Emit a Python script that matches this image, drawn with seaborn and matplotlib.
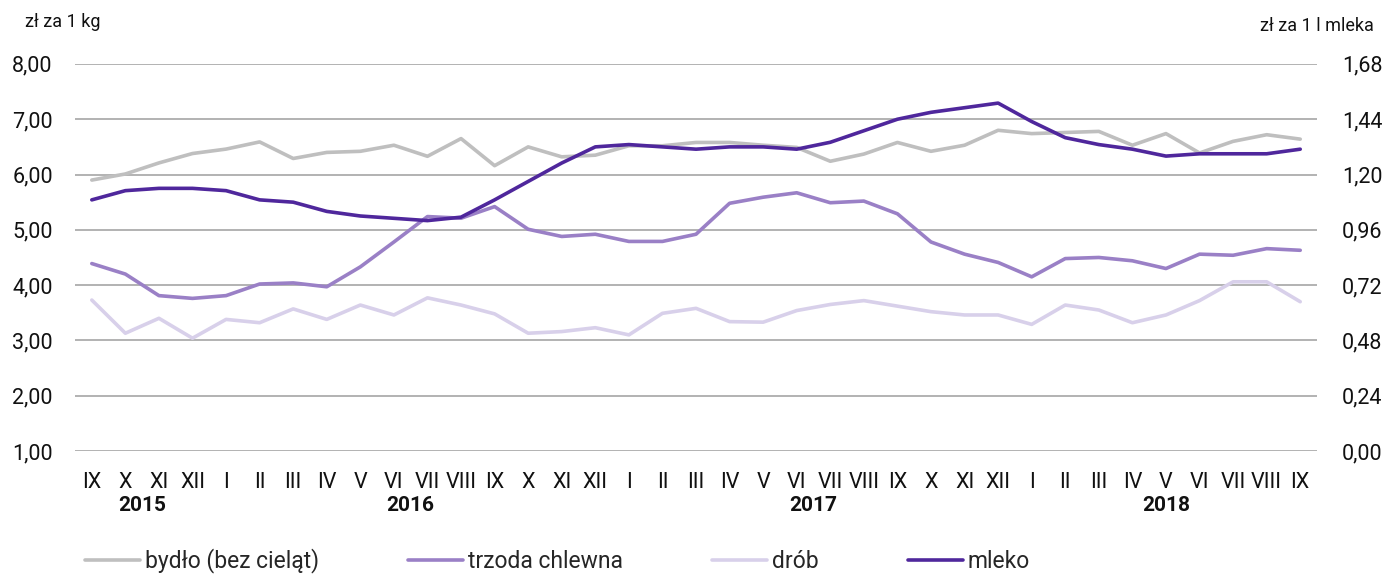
import matplotlib
matplotlib.use("Agg")
import matplotlib.pyplot as plt
from matplotlib.ticker import FuncFormatter, FixedLocator
import seaborn as sns
import pandas as pd

# miesiące IX 2015 - IX 2018
months = ["IX", "X", "XI", "XII",
          "I", "II", "III", "IV", "V", "VI", "VII", "VIII", "IX", "X", "XI", "XII",
          "I", "II", "III", "IV", "V", "VI", "VII", "VIII", "IX", "X", "XI", "XII",
          "I", "II", "III", "IV", "V", "VI", "VII", "VIII", "IX"]
years = ["2015", "2016", "2017", "2018"]
year_counts = [4, 12, 12, 9]

bydlo = [5.90, 6.01, 6.21, 6.38, 6.46, 6.59, 6.29, 6.40, 6.42, 6.53, 6.33, 6.65,
         6.16, 6.50, 6.32, 6.35, 6.52, 6.52, 6.58, 6.58, 6.53, 6.49, 6.24, 6.37,
         6.58, 6.42, 6.53, 6.80, 6.74, 6.76, 6.78, 6.53, 6.74, 6.39, 6.60, 6.72, 6.64]
trzoda = [4.39, 4.20, 3.81, 3.76, 3.81, 4.02, 4.04, 3.97, 4.33, 4.78, 5.24, 5.21,
          5.42, 5.01, 4.88, 4.92, 4.79, 4.79, 4.92, 5.48, 5.59, 5.67, 5.49, 5.52,
          5.29, 4.78, 4.56, 4.41, 4.15, 4.48, 4.50, 4.44, 4.30, 4.56, 4.54, 4.66, 4.63]
drob = [3.73, 3.13, 3.40, 3.04, 3.38, 3.32, 3.57, 3.38, 3.64, 3.46, 3.77, 3.64,
        3.48, 3.13, 3.16, 3.23, 3.10, 3.49, 3.58, 3.34, 3.33, 3.54, 3.65, 3.72,
        3.62, 3.52, 3.46, 3.46, 3.29, 3.64, 3.55, 3.32, 3.46, 3.72, 4.06, 4.06, 3.70]
mleko = [1.09, 1.13, 1.14, 1.14, 1.13, 1.09, 1.08, 1.04, 1.02, 1.01, 1.00, 1.015,
         1.09, 1.17, 1.25, 1.32, 1.33, 1.32, 1.31, 1.32, 1.32, 1.31, 1.34, 1.39,
         1.44, 1.47, 1.49, 1.51, 1.43, 1.36, 1.33, 1.31, 1.28, 1.29, 1.29, 1.29, 1.31]

left_ticks = [1, 2, 3, 4, 5, 6, 7, 8]
right_ticks = [0.00, 0.24, 0.48, 0.72, 0.96, 1.20, 1.44, 1.68]

df = pd.DataFrame({"x": range(len(months)), "bydlo": bydlo, "trzoda": trzoda,
                   "drob": drob, "mleko": mleko})

sns.set_style("white")
plt.rcParams["font.family"] = ["Roboto", "DejaVu Sans"]

fig = plt.figure(figsize=(13.84, 5.76), dpi=100)
ax = fig.add_axes([0.0542, 0.217, 0.8974, 0.672])
ax2 = ax.twinx()

c_bydlo, c_trzoda, c_drob, c_mleko = "#bfbfbf", "#9a80c6", "#d8d0ea", "#4f279c"
lw = 2.6
sns.lineplot(data=df, x="x", y="bydlo", ax=ax, color=c_bydlo, lw=lw, label="bydło (bez cieląt)", legend=False)
sns.lineplot(data=df, x="x", y="trzoda", ax=ax, color=c_trzoda, lw=lw, label="trzoda chlewna", legend=False)
sns.lineplot(data=df, x="x", y="drob", ax=ax, color=c_drob, lw=lw, label="drób", legend=False)
sns.lineplot(data=df, x="x", y="mleko", ax=ax2, color=c_mleko, lw=lw, label="mleko", legend=False)

ax.set_xlim(-0.5, len(months) - 0.5)
ax.set_ylim(1, 8)
ax2.set_ylim(0, 1.68)
ax.yaxis.set_major_locator(FixedLocator(left_ticks))
ax2.yaxis.set_major_locator(FixedLocator(right_ticks))
fmt = FuncFormatter(lambda v, p: f"{v:.2f}".replace(".", ","))
ax.yaxis.set_major_formatter(fmt)
ax2.yaxis.set_major_formatter(fmt)

ax.grid(axis="y", color="#a6a6a6", lw=1.2)
ax.set_axisbelow(True)
for a in (ax, ax2):
    for s in a.spines.values():
        s.set_visible(False)
    a.set_xlabel("")
    a.set_ylabel("")
ax.tick_params(axis="y", length=0, pad=16, labelsize=15.5, colors="#111111")
ax2.tick_params(axis="y", length=0, pad=18, labelsize=15.5, colors="#111111")
ax.set_xticks(range(len(months)))
ax.set_xticklabels(months)
ax.tick_params(axis="x", length=0, pad=15, labelsize=15.5, colors="#111111")

# etykiety lat
start = 0
for yr, n in zip(years, year_counts):
    ax.text(start + (n - 1) / 2, -0.14, yr, transform=ax.get_xaxis_transform(),
            ha="center", va="center", fontsize=15, fontweight="bold", color="#111111")
    start += n

fig.text(0.018, 0.962, "zł za 1 kg", fontsize=13, ha="left", va="center", color="#111111")
fig.text(0.993, 0.955, "zł za 1 l mleka", fontsize=13, ha="right", va="center", color="#111111")

h1, l1 = ax.get_legend_handles_labels()
h2, l2 = ax2.get_legend_handles_labels()
fig.legend(h1 + h2, l1 + l2, loc="center left", bbox_to_anchor=(0.055, 0.026), ncol=4,
           frameon=False, fontsize=16.5, handlelength=2.4, handletextpad=0.2,
           columnspacing=3.9, borderaxespad=0)

fig.savefig("out.png", dpi=100)
